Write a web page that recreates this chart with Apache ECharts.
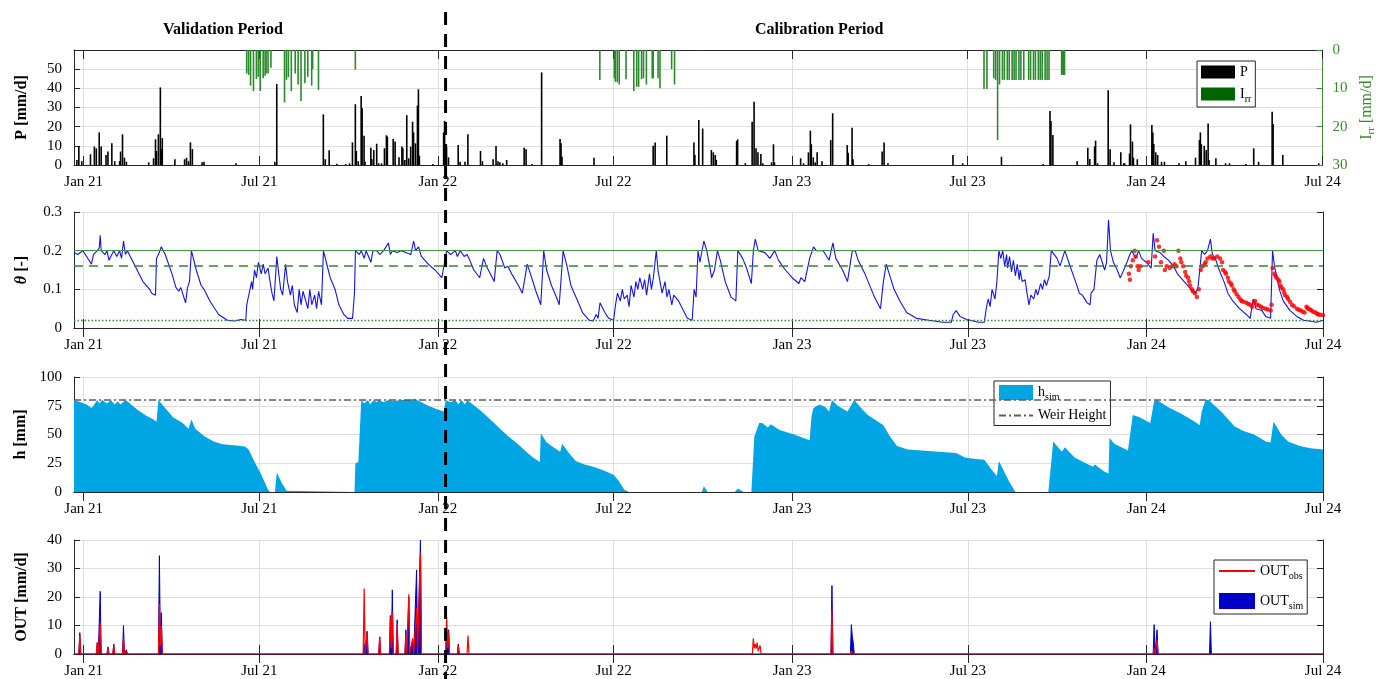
<!DOCTYPE html>
<html><head><meta charset="utf-8">
<script src="https://cdn.jsdelivr.net/npm/echarts@6/dist/echarts.min.js"></script>
<style>html,body{margin:0;padding:0;background:#fff}#c{width:1385px;height:679px}</style>
</head><body><div id="c"></div>
<script>
const xStart = '2020-12-22', xEnd = '2024-07-01';
const splitDate = '2022-01-09';
const tickDates = ['2021-01-01','2021-07-01','2022-01-01','2022-07-01','2023-01-01','2023-07-01','2024-01-01','2024-07-01'];
const periodTitles = ['Validation Period', 'Calibration Period'];

// Precipitation P [mm/d]
const precip = [['2020-12-25',2.6],['2020-12-27',9.6],['2020-12-30',2],
['2021-01-08',5.6],['2021-01-12',9.6],['2021-01-14',8.7],['2021-01-17',17],['2021-01-19',9.6],['2021-01-24',5.2],['2021-01-26',7],['2021-01-30',11.3],['2021-02-02',2],['2021-02-07',2],['2021-02-08',7],['2021-02-10',16],['2021-02-12',3.8],['2021-02-14',1.7],
['2021-03-09',1.4],['2021-03-14',3.5],['2021-03-16',13.4],['2021-03-17',7.3],['2021-03-19',16],['2021-03-21',40.5],['2021-03-22',8.3],['2021-03-23',14],
['2021-04-05',3],['2021-04-15',3],['2021-04-17',3.8],['2021-04-19',2],['2021-04-21',11.8],['2021-04-23',8.3],['2021-05-03',1.4],['2021-05-05',1.7],['2021-06-07',0.9],
['2021-07-17',1.7],['2021-07-19',42.3],
['2021-09-05',26.4],['2021-09-07',3],['2021-09-11',7.7],['2021-09-19',0.7],['2021-09-28',0.5],['2021-10-02',0.9],['2021-10-05',11.8],['2021-10-08',31.7],['2021-10-09',7.3],['2021-10-11',2],['2021-10-14',36],['2021-10-15',29.6],['2021-10-17',15.3],['2021-10-18',1.7],['2021-10-24',9],['2021-10-25',3.1],['2021-10-27',7.8],['2021-10-30',11.1],['2021-11-01',0.9],['2021-11-04',0.9],['2021-11-07',8.7],['2021-11-09',15.5],['2021-11-10',14.8],['2021-11-16',13.6],['2021-11-18',12.2],['2021-11-22',4],['2021-11-25',9.6],['2021-11-26',8.7],['2021-11-28',2.6],['2021-11-30',26],['2021-12-02',3.5],['2021-12-04',9.6],['2021-12-06',22.6],['2021-12-07',17],['2021-12-09',11.3],['2021-12-11',31],['2021-12-12',39.5],['2021-12-13',4.9],['2021-12-27',0.5],
['2022-01-07',17],['2022-01-08',23],['2022-01-09',10],['2022-01-10',9.5],['2022-01-12',4],['2022-01-22',10.4],['2022-01-24',1.7],['2022-01-29',1.7],['2022-02-01',16],['2022-02-14',7.3],['2022-02-16',2],['2022-02-27',3],['2022-03-02',9.9],['2022-03-04',2],['2022-03-06',1.4],['2022-03-09',0.9],['2022-03-13',2.6],['2022-03-31',9],['2022-04-02',8.2],['2022-04-08',0.5],['2022-04-18',48.3],['2022-05-07',13.6],['2022-05-08',11.3],['2022-05-09',4.3],['2022-06-11',3.8],
['2022-08-11',10],['2022-08-13',11.8],['2022-08-25',15.3],['2022-09-22',11.8],['2022-09-23',5.2],['2022-09-27',23.5],['2022-10-01',19],['2022-10-10',7.8],['2022-10-12',6.6],['2022-10-14',5.2],['2022-10-15',2.6],['2022-11-05',12.5],['2022-11-06',13.4],['2022-11-14',0.9],['2022-11-21',22.6],['2022-11-23',33],['2022-11-25',8.7],['2022-11-27',6.6],['2022-11-30',5.7],['2022-12-02',0.9],['2022-12-11',1.4],['2022-12-13',10.8],['2022-12-14',1.4],
['2023-01-10',3.5],['2023-01-13',0.9],['2023-01-18',6.6],['2023-01-20',17.9],['2023-01-21',10.8],['2023-01-23',4],['2023-01-25',1.4],['2023-01-27',6.6],['2023-02-01',2],['2023-02-10',13],['2023-02-12',27],['2023-02-27',10.4],['2023-02-28',6.4],['2023-03-04',19.5],['2023-03-05',3],['2023-03-21',0.5],['2023-04-04',7],['2023-04-06',11.8],['2023-04-10',0.9],['2023-06-16',5.2],['2023-06-26',0.9],['2023-08-05',4.3],
['2023-09-17',0.5],['2023-09-24',28.2],['2023-09-25',23],['2023-09-27',15.7],['2023-10-22',2],['2023-11-02',9],['2023-11-04',3.1],['2023-11-09',9.6],['2023-11-10',12.7],['2023-11-12',0.9],['2023-11-23',39],['2023-11-25',8.2],['2023-11-29',1.4],['2023-12-06',6.6],['2023-12-09',0.9],['2023-12-10',0.9],['2023-12-15',6],['2023-12-16',21.2],['2023-12-18',12.2],['2023-12-19',3.8],['2023-12-23',3],
['2024-01-07',20.9],['2024-01-08',17],['2024-01-09',11],['2024-01-11',6.6],['2024-01-13',5.2],['2024-01-17',1.7],['2024-01-20',1.7],['2024-02-04',0.9],['2024-02-11',2],['2024-02-21',3.8],['2024-02-25',13],['2024-02-26',17],['2024-02-27',10.8],['2024-03-01',10],['2024-03-03',7.8],['2024-03-05',21.7],['2024-03-06',2.6],['2024-03-13',3.5],['2024-03-23',0.9],['2024-03-27',0.9],['2024-04-13',0.5],['2024-04-21',8.7],['2024-04-26',1.7],['2024-05-10',27.8],['2024-05-11',21.4],['2024-05-21',5.2],['2024-06-27',0.9]];

// Irrigation I_rr [mm/d] (right axis, inverted)
const irrigation = [['2021-06-18',6.1],['2021-06-20',6.5],['2021-06-22',9.3],['2021-06-25',10.7],['2021-06-28',7.6],['2021-06-30',7],['2021-07-02',10.7],['2021-07-05',7.4],['2021-07-07',6.7],['2021-07-08',6.1],['2021-07-10',6.1],['2021-07-13',4.6],['2021-07-27',13.7],['2021-07-29',7.8],['2021-07-31',7.1],['2021-08-03',10.7],['2021-08-07',6.1],['2021-08-10',9],['2021-08-13',13.3],['2021-08-17',8.7],['2021-08-20',7],['2021-08-24',9.3],['2021-08-25',5],['2021-08-31',10.4],['2021-10-08',5.1],
['2022-06-17',7.8],['2022-07-02',7.4],['2022-07-03',8.3],['2022-07-05',8.4],['2022-07-07',9],['2022-07-14',7.6],['2022-07-22',10.7],['2022-07-25',9.6],['2022-07-27',9.6],['2022-07-30',7.6],['2022-08-01',7.4],['2022-08-04',9],['2022-08-10',7.4],['2022-08-11',7.4],['2022-08-16',7.4],['2022-08-18',10],['2022-08-30',5],['2022-09-02',9],
['2023-07-18',10.2],['2023-07-21',10.2],['2023-07-28',7.4],['2023-07-30',7.8],['2023-08-01',23.5],['2023-08-03',9],['2023-08-06',7.8],['2023-08-08',7.8],['2023-08-11',7.8],['2023-08-13',7.8],['2023-08-16',7.8],['2023-08-18',7.8],['2023-08-20',7.8],['2023-08-23',7.8],['2023-08-25',7.8],['2023-08-28',7.8],['2023-09-02',7.8],['2023-09-04',7.8],['2023-09-07',7.8],['2023-09-09',7.8],['2023-09-12',7.8],['2023-09-14',7.8],['2023-09-16',7.8],['2023-09-19',7.8],['2023-09-21',7.8],['2023-09-23',7.8],['2023-10-06',6.5],['2023-10-07',6.5],['2023-10-08',6.5],['2023-10-09',6.5]];

// Soil moisture theta [-]
const thetaSim = [['2020-12-22',0.195],['2020-12-26',0.19],['2020-12-31',0.2],['2021-01-04',0.185],['2021-01-09',0.165],['2021-01-11',0.19],['2021-01-15',0.2],['2021-01-17',0.207],['2021-01-18',0.24],['2021-01-19',0.2],['2021-01-23',0.19],['2021-01-25',0.2],['2021-01-27',0.175],['2021-02-01',0.2],['2021-02-04',0.185],['2021-02-07',0.2],['2021-02-09',0.18],['2021-02-11',0.225],['2021-02-13',0.19],['2021-02-15',0.2],['2021-02-21',0.17],['2021-03-03',0.12],['2021-03-10',0.1],['2021-03-12',0.09],['2021-03-14',0.095],['2021-03-16',0.085],['2021-03-17',0.18],['2021-03-19',0.19],['2021-03-22',0.21],['2021-03-26',0.19],['2021-04-02',0.14],['2021-04-06',0.105],['2021-04-09',0.095],['2021-04-11',0.105],['2021-04-16',0.065],['2021-04-18',0.105],['2021-04-20',0.12],['2021-04-22',0.2],['2021-04-27',0.15],['2021-05-02',0.11],['2021-05-05',0.1],['2021-05-11',0.07],['2021-05-20',0.035],['2021-05-29',0.02],['2021-06-05',0.018],['2021-06-12',0.022],['2021-06-17',0.02],['2021-06-18',0.06],['2021-06-20',0.055],['2021-06-23',0.12],['2021-06-24',0.1],['2021-06-26',0.15],['2021-06-28',0.13],['2021-06-30',0.17],['2021-07-03',0.14],['2021-07-05',0.165],['2021-07-07',0.14],['2021-07-10',0.155],['2021-07-12',0.12],['2021-07-14',0.09],['2021-07-16',0.07],['2021-07-19',0.185],['2021-07-21',0.14],['2021-07-23',0.1],['2021-07-25',0.085],['2021-07-28',0.165],['2021-07-30',0.12],['2021-08-02',0.085],['2021-08-04',0.11],['2021-08-06',0.06],['2021-08-09',0.04],['2021-08-11',0.1],['2021-08-13',0.06],['2021-08-15',0.095],['2021-08-20',0.05],['2021-08-22',0.1],['2021-08-24',0.06],['2021-08-27',0.085],['2021-08-29',0.05],['2021-08-31',0.095],['2021-09-03',0.06],['2021-09-05',0.2],['2021-09-10',0.15],['2021-09-12',0.13],['2021-09-14',0.135],['2021-09-17',0.1],['2021-09-21',0.06],['2021-09-26',0.035],['2021-09-30',0.025],['2021-10-05',0.025],['2021-10-07',0.09],['2021-10-08',0.2],['2021-10-12',0.19],['2021-10-14',0.2],['2021-10-17',0.18],['2021-10-19',0.2],['2021-10-24',0.17],['2021-10-26',0.2],['2021-10-30',0.2],['2021-11-02',0.19],['2021-11-06',0.2],['2021-11-11',0.22],['2021-11-13',0.19],['2021-11-15',0.2],['2021-11-20',0.195],['2021-11-24',0.2],['2021-11-29',0.195],['2021-12-01',0.2],['2021-12-04',0.19],['2021-12-07',0.225],['2021-12-09',0.2],['2021-12-12',0.21],['2021-12-15',0.185],['2021-12-22',0.165],['2021-12-29',0.15],['2022-01-05',0.13],['2022-01-07',0.125],['2022-01-10',0.2],['2022-01-14',0.19],['2022-01-19',0.2],['2022-01-21',0.185],['2022-01-24',0.2],['2022-01-28',0.185],['2022-01-31',0.19],['2022-02-02',0.18],['2022-02-07',0.15],['2022-02-13',0.13],['2022-02-17',0.18],['2022-02-20',0.16],['2022-02-25',0.135],['2022-02-28',0.12],['2022-03-03',0.2],['2022-03-06',0.19],['2022-03-11',0.155],['2022-03-14',0.16],['2022-03-18',0.14],['2022-03-25',0.11],['2022-03-29',0.09],['2022-04-03',0.165],['2022-04-07',0.135],['2022-04-12',0.095],['2022-04-17',0.06],['2022-04-20',0.2],['2022-04-23',0.15],['2022-04-28',0.11],['2022-05-03',0.08],['2022-05-06',0.06],['2022-05-10',0.2],['2022-05-14',0.16],['2022-05-18',0.11],['2022-05-25',0.07],['2022-05-30',0.04],['2022-06-06',0.02],['2022-06-10',0.018],['2022-06-13',0.035],['2022-06-15',0.025],['2022-06-17',0.065],['2022-06-22',0.04],['2022-06-26',0.025],['2022-07-01',0.02],['2022-07-03',0.06],['2022-07-05',0.09],['2022-07-08',0.07],['2022-07-10',0.1],['2022-07-12',0.075],['2022-07-15',0.085],['2022-07-17',0.055],['2022-07-19',0.11],['2022-07-22',0.08],['2022-07-24',0.12],['2022-07-26',0.1],['2022-07-28',0.13],['2022-07-31',0.1],['2022-08-02',0.125],['2022-08-04',0.085],['2022-08-07',0.14],['2022-08-09',0.1],['2022-08-11',0.13],['2022-08-14',0.2],['2022-08-16',0.145],['2022-08-18',0.15],['2022-08-20',0.09],['2022-08-23',0.12],['2022-08-25',0.08],['2022-08-27',0.1],['2022-08-30',0.06],['2022-09-01',0.085],['2022-09-03',0.09],['2022-09-06',0.07],['2022-09-10',0.05],['2022-09-15',0.025],['2022-09-20',0.02],['2022-09-22',0.1],['2022-09-24',0.08],['2022-09-26',0.2],['2022-09-28',0.17],['2022-10-02',0.225],['2022-10-05',0.2],['2022-10-08',0.16],['2022-10-10',0.13],['2022-10-13',0.15],['2022-10-16',0.2],['2022-10-19',0.175],['2022-10-24',0.12],['2022-10-30',0.08],['2022-11-04',0.07],['2022-11-06',0.2],['2022-11-11',0.18],['2022-11-15',0.155],['2022-11-20',0.115],['2022-11-22',0.2],['2022-11-24',0.23],['2022-11-27',0.2],['2022-11-29',0.2],['2022-12-04',0.195],['2022-12-09',0.18],['2022-12-14',0.2],['2022-12-18',0.175],['2022-12-25',0.15],['2023-01-01',0.13],['2023-01-08',0.115],['2023-01-10',0.13],['2023-01-14',0.12],['2023-01-19',0.18],['2023-01-23',0.21],['2023-01-26',0.2],['2023-02-02',0.2],['2023-02-08',0.175],['2023-02-12',0.22],['2023-02-15',0.18],['2023-02-22',0.15],['2023-02-27',0.12],['2023-03-04',0.2],['2023-03-07',0.2],['2023-03-10',0.175],['2023-03-17',0.14],['2023-03-26',0.085],['2023-04-02',0.05],['2023-04-05',0.12],['2023-04-08',0.165],['2023-04-11',0.14],['2023-04-16',0.1],['2023-04-22',0.07],['2023-04-29',0.04],['2023-05-09',0.025],['2023-05-22',0.02],['2023-06-05',0.015],['2023-06-14',0.015],['2023-06-16',0.035],['2023-06-19',0.045],['2023-06-23',0.03],['2023-06-30',0.022],['2023-07-12',0.015],['2023-07-18',0.015],['2023-07-20',0.05],['2023-07-22',0.075],['2023-07-24',0.055],['2023-07-26',0.1],['2023-07-29',0.075],['2023-07-31',0.12],['2023-08-02',0.2],['2023-08-04',0.18],['2023-08-06',0.2],['2023-08-08',0.16],['2023-08-10',0.19],['2023-08-11',0.155],['2023-08-13',0.185],['2023-08-15',0.145],['2023-08-17',0.175],['2023-08-19',0.135],['2023-08-21',0.165],['2023-08-23',0.125],['2023-08-24',0.15],['2023-08-26',0.12],['2023-08-29',0.125],['2023-08-31',0.09],['2023-09-02',0.06],['2023-09-04',0.085],['2023-09-07',0.075],['2023-09-09',0.1],['2023-09-11',0.085],['2023-09-14',0.115],['2023-09-16',0.1],['2023-09-18',0.125],['2023-09-20',0.11],['2023-09-23',0.135],['2023-09-25',0.2],['2023-09-27',0.2],['2023-10-01',0.18],['2023-10-04',0.16],['2023-10-09',0.2],['2023-10-13',0.17],['2023-10-20',0.12],['2023-10-24',0.09],['2023-10-27',0.085],['2023-11-01',0.065],['2023-11-04',0.06],['2023-11-05',0.09],['2023-11-08',0.1],['2023-11-11',0.175],['2023-11-14',0.19],['2023-11-19',0.15],['2023-11-21',0.17],['2023-11-23',0.28],['2023-11-25',0.2],['2023-11-28',0.17],['2023-12-02',0.15],['2023-12-05',0.13],['2023-12-07',0.14],['2023-12-12',0.17],['2023-12-15',0.19],['2023-12-17',0.2],['2023-12-21',0.18],['2023-12-24',0.2],['2023-12-27',0.18],['2024-01-01',0.17],['2024-01-06',0.155],['2024-01-08',0.245],['2024-01-10',0.2],['2024-01-15',0.195],['2024-01-19',0.185],['2024-01-24',0.175],['2024-01-29',0.16],['2024-02-02',0.14],['2024-02-09',0.12],['2024-02-16',0.1],['2024-02-20',0.09],['2024-02-23',0.1],['2024-02-25',0.15],['2024-02-27',0.2],['2024-03-01',0.19],['2024-03-04',0.2],['2024-03-07',0.23],['2024-03-09',0.19],['2024-03-12',0.18],['2024-03-16',0.15],['2024-03-21',0.12],['2024-03-25',0.09],['2024-03-30',0.07],['2024-04-06',0.05],['2024-04-13',0.035],['2024-04-17',0.025],['2024-04-20',0.075],['2024-04-23',0.05],['2024-04-29',0.045],['2024-05-03',0.03],['2024-05-08',0.025],['2024-05-10',0.2],['2024-05-12',0.16],['2024-05-17',0.1],['2024-05-21',0.07],['2024-05-28',0.045],['2024-06-04',0.03],['2024-06-11',0.02],['2024-06-17',0.018],['2024-06-24',0.015],['2024-07-01',0.02]];

const thetaObs = [['2023-12-14',0.14],['2023-12-15',0.125],['2023-12-16',0.16],['2023-12-18',0.175],['2023-12-20',0.2],['2023-12-21',0.185],['2023-12-23',0.16],['2023-12-24',0.15],['2023-12-26',0.16],['2024-01-03',0.17],['2024-01-10',0.185],['2024-01-12',0.227],['2024-01-14',0.21],['2024-01-16',0.17],['2024-01-19',0.2],['2024-01-20',0.15],['2024-01-22',0.16],['2024-01-25',0.155],['2024-01-28',0.16],['2024-01-30',0.165],['2024-02-01',0.16],['2024-02-03',0.2],['2024-02-05',0.18],['2024-02-06',0.17],['2024-02-08',0.16],['2024-02-10',0.145],['2024-02-11',0.135],['2024-02-13',0.13],['2024-02-14',0.12],['2024-02-15',0.11],['2024-02-17',0.1],['2024-02-18',0.095],['2024-02-20',0.09],['2024-02-22',0.08],['2024-02-24',0.1],['2024-02-26',0.15],['2024-02-28',0.16],['2024-03-01',0.165],['2024-03-02',0.17],['2024-03-04',0.18],['2024-03-07',0.185],['2024-03-09',0.18],['2024-03-11',0.18],['2024-03-14',0.185],['2024-03-17',0.18],['2024-03-19',0.17],['2024-03-20',0.15],['2024-03-22',0.145],['2024-03-23',0.14],['2024-03-25',0.13],['2024-03-26',0.12],['2024-03-28',0.115],['2024-03-29',0.11],['2024-03-31',0.1],['2024-04-01',0.095],['2024-04-03',0.087],['2024-04-05',0.08],['2024-04-07',0.074],['2024-04-08',0.07],['2024-04-10',0.068],['2024-04-13',0.065],['2024-04-15',0.062],['2024-04-17',0.06],['2024-04-19',0.055],['2024-04-21',0.065],['2024-04-22',0.07],['2024-04-24',0.06],['2024-04-26',0.058],['2024-04-28',0.055],['2024-04-30',0.052],['2024-05-03',0.05],['2024-05-05',0.048],['2024-05-08',0.045],['2024-05-09',0.06],['2024-05-10',0.155],['2024-05-12',0.14],['2024-05-13',0.135],['2024-05-14',0.13],['2024-05-16',0.125],['2024-05-17',0.12],['2024-05-18',0.11],['2024-05-19',0.105],['2024-05-21',0.1],['2024-05-22',0.092],['2024-05-23',0.085],['2024-05-25',0.08],['2024-05-26',0.075],['2024-05-28',0.068],['2024-05-30',0.06],['2024-06-01',0.056],['2024-06-04',0.05],['2024-06-06',0.047],['2024-06-08',0.045],['2024-06-10',0.042],['2024-06-12',0.04],['2024-06-14',0.055],['2024-06-15',0.052],['2024-06-16',0.05],['2024-06-18',0.047],['2024-06-19',0.045],['2024-06-21',0.042],['2024-06-23',0.04],['2024-06-25',0.037],['2024-06-26',0.035],['2024-06-28',0.034],['2024-07-01',0.033]];

const thetaFC = 0.2, thetaCrit = 0.16, thetaWP = 0.02;

// Ponding depth h [mm]
const hSim = [['2020-12-22',80],['2020-12-29',78],['2021-01-04',76],['2021-01-09',73],['2021-01-11',75],['2021-01-15',80],['2021-01-17',77],['2021-01-20',80],['2021-01-25',77],['2021-01-29',80],['2021-02-02',76],['2021-02-05',79],['2021-02-08',76],['2021-02-13',80],['2021-02-16',78],['2021-02-26',71],['2021-03-07',66],['2021-03-14',63],['2021-03-17',61],['2021-03-19',80],['2021-03-25',74],['2021-04-03',65],['2021-04-13',60],['2021-04-19',55],['2021-04-22',63],['2021-04-26',55],['2021-05-06',48],['2021-05-15',44],['2021-05-24',41.5],['2021-06-07',40.5],['2021-06-16',39.5],['2021-06-20',37],['2021-06-25',28],['2021-07-03',15],['2021-07-10',2],['2021-07-12',0],['2021-07-17',0],['2021-07-19',17],['2021-07-24',8],['2021-07-29',1],['2021-07-31',0],['2021-10-07',0],['2021-10-08',25],['2021-10-11',26],['2021-10-14',80],['2021-10-17',77],['2021-10-21',80],['2021-10-23',76],['2021-10-27',80],['2021-10-30',78],['2021-11-01',80],['2021-11-06',78],['2021-11-11',80],['2021-11-15',79],['2021-11-24',80],['2021-12-01',80],['2021-12-08',81],['2021-12-15',78],['2021-12-22',75],['2021-12-31',72],['2022-01-07',70],['2022-01-09',80],['2022-01-14',78],['2022-01-19',80],['2022-01-22',76],['2022-01-25',80],['2022-01-29',76],['2022-01-31',80],['2022-02-06',76],['2022-02-15',70],['2022-02-24',63],['2022-03-06',55],['2022-03-15',48],['2022-03-24',42],['2022-04-02',35],['2022-04-09',30],['2022-04-16',26],['2022-04-17',51],['2022-04-23',43],['2022-04-30',39],['2022-05-07',35],['2022-05-09',42],['2022-05-16',34],['2022-05-23',27],['2022-06-01',24],['2022-06-10',22],['2022-06-20',19],['2022-07-01',15],['2022-07-06',10],['2022-07-12',2],['2022-07-17',0],['2022-08-12',0],['2022-08-14',1.5],['2022-08-16',0],['2022-09-30',0],['2022-10-02',5],['2022-10-06',0],['2022-10-13',0],['2022-10-15',1.5],['2022-10-17',0],['2022-11-03',0],['2022-11-06',3],['2022-11-12',0],['2022-11-20',0],['2022-11-23',48],['2022-11-28',60],['2022-12-01',60],['2022-12-07',56],['2022-12-10',59],['2022-12-19',54],['2023-01-03',50],['2023-01-19',45],['2023-01-21',66],['2023-01-23',73],['2023-01-29',76],['2023-02-04',74],['2023-02-08',70],['2023-02-11',80],['2023-02-17',75],['2023-02-27',70],['2023-03-06',80],['2023-03-13',73],['2023-03-20',67],['2023-03-29',62],['2023-04-05',58],['2023-04-12',48],['2023-04-19',40],['2023-04-30',37],['2023-05-14',36],['2023-06-01',35],['2023-06-19',34],['2023-06-28',30],['2023-07-07',29],['2023-07-18',28],['2023-07-25',20],['2023-07-31',14],['2023-08-02',27],['2023-08-05',22],['2023-08-12',10],['2023-08-19',0],['2023-09-22',0],['2023-09-27',44],['2023-10-06',35],['2023-10-09',39],['2023-10-19',30],['2023-10-28',26],['2023-11-07',22],['2023-11-09',24],['2023-11-18',18],['2023-11-23',16],['2023-11-24',47],['2023-11-29',42],['2023-12-13',36],['2023-12-18',67],['2023-12-25',65],['2024-01-05',60],['2024-01-09',79],['2024-01-12',80],['2024-01-23',74],['2024-02-06',68],['2024-02-20',61],['2024-02-25',58],['2024-02-27',70],['2024-03-02',80],['2024-03-05',80],['2024-03-18',70],['2024-04-01',57],['2024-04-10',53],['2024-04-21',50],['2024-05-03',44],['2024-05-08',43],['2024-05-11',61],['2024-05-19',50],['2024-05-26',44],['2024-06-07',40],['2024-06-18',38],['2024-07-01',37]];
const weirHeight = 80;

// Outflow OUT [mm/d]: [date, simulated, observed]
const outFlow = [['2020-12-22',0,0],
['2020-12-27',0,0],['2020-12-28',7.5,6.5],['2020-12-29',0,0],
['2021-01-14',0,0],['2021-01-15',4,4],['2021-01-16',0,0],
['2021-01-17',0,0],['2021-01-18',22,11],['2021-01-19',0,0],
['2021-01-25',0,0],['2021-01-26',2.5,2],['2021-01-27',0,0],
['2021-01-31',0,0],['2021-02-01',3.5,3],['2021-02-02',0,0],
['2021-02-10',0,0],['2021-02-11',10,5.5],['2021-02-12',0,0],
['2021-02-13',0,0],['2021-02-14',1.5,1],['2021-02-15',0,0],
['2021-03-19',0,0],['2021-03-20',34.5,17.5],['2021-03-21',4,3],['2021-03-22',14.5,10],['2021-03-23',0,0],
['2021-04-17',0,0],['2021-04-18',0,0.5],['2021-04-19',0,0],
['2021-10-16',0,0],['2021-10-17',3.5,23],['2021-10-18',0,0],
['2021-10-19',0,0],['2021-10-20',8,7.5],['2021-10-21',0,0],
['2021-11-01',0,0],['2021-11-02',6,6],['2021-11-03',0,0],
['2021-11-12',0,0],['2021-11-13',13.5,13],['2021-11-14',3,2],['2021-11-15',22.5,15],['2021-11-16',0,0],
['2021-11-19',0,0],['2021-11-20',12,10.5],['2021-11-21',0,0],
['2021-11-28',0,0],['2021-11-29',8.5,7],['2021-11-30',0,0],
['2021-12-01',0,0],['2021-12-02',20,21],['2021-12-03',0,0],
['2021-12-05',0,0],['2021-12-06',5,5.5],['2021-12-07',0,0],
['2021-12-09',0,0],['2021-12-10',29.5,16],['2021-12-11',0,0],
['2021-12-13',0,0],['2021-12-14',40,35.5],['2021-12-15',0,0],
['2022-01-09',0,0],['2022-01-10',8.5,13],['2022-01-11',3,2],['2022-01-12',8.5,8],['2022-01-13',0,0],
['2022-01-21',0,0],['2022-01-22',3.5,3],['2022-01-23',0,0],
['2022-01-31',0,0],['2022-02-01',0,6.5],['2022-02-02',0,0],
['2022-11-21',0,0],['2022-11-22',0,5.5],['2022-11-23',0,2],['2022-11-24',0,3.5],['2022-11-25',0,2],['2022-11-26',0,4],['2022-11-27',0,1],['2022-11-29',0,3],['2022-11-30',0,0],
['2023-02-10',0,0],['2023-02-11',24,15.5],['2023-02-12',0,0],
['2023-03-02',0,0],['2023-03-03',10.3,1],['2023-03-04',6,0.5],['2023-03-05',4,0],['2023-03-06',0,0],
['2024-01-08',0,0],['2024-01-09',10.3,2],['2024-01-10',0,0],
['2024-01-11',0,0],['2024-01-12',8.5,5],['2024-01-13',0,0],
['2024-03-06',0,0],['2024-03-07',11.3,0.5],['2024-03-08',0,0],
['2024-07-01',0,0]];

const FF = '"Liberation Serif","Times New Roman",serif';
const AX = '#262626';
const GRIDC = '#dedede';
const toTs = s => { const [y,m,d] = s.split('-').map(Number); return new Date(y, m-1, d).getTime(); };
const pts = arr => arr.map(([d, v]) => [toTs(d), v]);
const ticks = tickDates.map(toTs);
const MON = ['Jan','Feb','Mar','Apr','May','Jun','Jul','Aug','Sep','Oct','Nov','Dec'];
const fmtDate = v => { const d = new Date(v); return MON[d.getMonth()] + ' ' + String(d.getFullYear()).slice(2); };

const panels = [{top:50,height:115},{top:212,height:116},{top:377,height:115},{top:540,height:116}];
const grid = panels.map(p => ({left:74, right:62, top:p.top, height:p.height}));

const xAxis = [];
panels.forEach((p, g) => {
  xAxis.push({type:'value', gridIndex:g, min:toTs(xStart), max:toTs(xEnd), scale:true,
    axisLine:{lineStyle:{color:AX, width:1}},
    axisTick:{show:true, inside:true, length:9, customValues:ticks, lineStyle:{color:AX}},
    axisLabel:{customValues:ticks, formatter:fmtDate, color:'#000', fontFamily:FF, fontSize:15, margin:10, hideOverlap:false},
    splitLine:{show:true, lineStyle:{color:GRIDC, width:1}}});
  xAxis.push({type:'value', gridIndex:g, position:'top', min:toTs(xStart), max:toTs(xEnd), scale:true,
    axisLine:{lineStyle:{color:AX, width:1}},
    axisTick:{show:true, inside:true, length:9, customValues:ticks, lineStyle:{color:AX}},
    axisLabel:{show:false}, splitLine:{show:false}});
});

const nameStyle = {fontFamily:FF, fontWeight:'bold', fontSize:16, color:'#000',
  rich:{i:{fontFamily:FF, fontStyle:'italic', fontWeight:'bold', fontSize:16, color:'#000'},
        b:{fontFamily:FF, fontWeight:'bold', fontSize:16, color:'#000'}}};
const labelStyle = {color:'#000', fontFamily:FF, fontSize:15, margin:12};
function leftY(g, min, max, interval, name, fmt){
  return {type:'value', gridIndex:g, min, max, interval, name, nameLocation:'middle', nameGap:44, nameRotate:90,
    nameTextStyle:nameStyle,
    axisLine:{show:true, lineStyle:{color:AX}}, axisTick:{show:true, inside:true, length:6, lineStyle:{color:AX}},
    axisLabel:Object.assign({formatter:fmt}, labelStyle), splitLine:{show:true, lineStyle:{color:GRIDC}}};
}
function mirrorY(g, min, max, interval){
  return {type:'value', gridIndex:g, position:'right', min, max, interval,
    axisLine:{show:true, lineStyle:{color:AX}}, axisTick:{show:true, inside:true, length:6, lineStyle:{color:AX}},
    axisLabel:{show:false}, splitLine:{show:false}};
}
const IRR_AX = '#3d8b2f';
const yAxis = [
  leftY(0, 0, 60, 10, 'P [mm/d]', v => v === 60 ? '' : String(v)),
  {type:'value', gridIndex:0, position:'right', inverse:true, min:0, max:30, interval:10,
   name:'{a|I}{s|rr}{a| [mm/d]}', nameLocation:'middle', nameGap:33, nameRotate:90,
   nameTextStyle:{color:IRR_AX, fontFamily:FF, fontSize:16,
     rich:{a:{color:IRR_AX, fontFamily:FF, fontSize:16}, s:{color:IRR_AX, fontFamily:FF, fontSize:11, padding:[10,0,0,0]}}},
   axisLine:{show:true, lineStyle:{color:IRR_AX}}, axisTick:{show:true, inside:true, length:6, lineStyle:{color:IRR_AX}},
   axisLabel:{color:IRR_AX, fontFamily:FF, fontSize:15, margin:10}, splitLine:{show:false}},
  leftY(1, 0, 0.3, 0.1, '{i|θ}{b| [-]}', v => v === 0 ? '0' : v.toFixed(1)),
  mirrorY(1, 0, 0.3, 0.1),
  leftY(2, 0, 100, 25, 'h [mm]', v => String(v)),
  mirrorY(2, 0, 100, 25),
  leftY(3, 0, 40, 10, 'OUT [mm/d]', v => String(v)),
  mirrorY(3, 0, 40, 10)
];

const SIMBLUE = '#0000c8';
const series = [
  {name:'P', type:'bar', xAxisIndex:0, yAxisIndex:0, data:pts(precip), barWidth:1.6, barGap:'-100%', itemStyle:{color:'#000'}, silent:true},
  {name:'I_rr', type:'bar', xAxisIndex:0, yAxisIndex:1, data:pts(irrigation), barWidth:1.6, barGap:'-100%', itemStyle:{color:'#2b8a2b'}, silent:true},
  {name:'theta_sim', type:'line', xAxisIndex:2, yAxisIndex:2, data:pts(thetaSim), symbol:'none', lineStyle:{color:'#1414e6', width:1.1}, z:3, silent:true,
   markLine:{silent:true, symbol:['none','none'], label:{show:false}, animation:false,
     data:[{yAxis:thetaFC, lineStyle:{color:'#3f9a3f', type:'solid', width:1.2}},
           {yAxis:thetaCrit, lineStyle:{color:'#2e8b2e', type:[9,6], width:1.5}},
           {yAxis:thetaWP, lineStyle:{color:'#2e8b2e', type:[1.5,2], width:1.3}}]}},
  {name:'theta_obs', type:'scatter', xAxisIndex:2, yAxisIndex:2, data:pts(thetaObs), symbol:'circle', symbolSize:4.5, itemStyle:{color:'#ff0000'}, z:4, silent:true},
  {name:'h_sim', type:'line', xAxisIndex:4, yAxisIndex:4, data:pts(hSim), symbol:'none', lineStyle:{width:0, color:'#00a5e3'}, itemStyle:{color:'#00a5e3'}, areaStyle:{color:'#00a5e3', opacity:1}, silent:true},
  {name:'Weir Height', type:'line', xAxisIndex:4, yAxisIndex:4, data:pts([[xStart, weirHeight],[xEnd, weirHeight]]), symbol:'none', lineStyle:{color:'#5c5c5c', width:1.6, type:[7,3,2,3]}, itemStyle:{color:'#5c5c5c'}, z:5, silent:true},
  {name:'OUT_sim', type:'line', xAxisIndex:6, yAxisIndex:6, data:outFlow.map(r => [toTs(r[0]), r[1]]), symbol:'none', lineStyle:{color:SIMBLUE, width:1}, itemStyle:{color:SIMBLUE}, areaStyle:{color:SIMBLUE, opacity:1}, silent:true},
  {name:'OUT_obs', type:'line', xAxisIndex:6, yAxisIndex:6, data:outFlow.map(r => [toTs(r[0]), r[2]]), symbol:'none', lineStyle:{color:'#ff0000', width:1.2}, itemStyle:{color:'#ff0000'}, z:4, silent:true}
];

const legendNames = {'P':'{m|P}', 'I_rr':'{m|I}{s|rr}', 'h_sim':'{m|h}{s|sim}', 'Weir Height':'{m|Weir Height}', 'OUT_obs':'{m|OUT}{s|obs}', 'OUT_sim':'{m|OUT}{s|sim}'};
const legendText = {fontFamily:FF, fontSize:14, color:'#000',
  rich:{m:{fontFamily:FF, fontSize:14, color:'#000'}, s:{fontFamily:FF, fontSize:10, color:'#000', padding:[10,0,0,0]}}};
function mkLegend(left, top, data, iw, ih, gap){
  return {left, top, orient:'vertical', data, itemWidth:iw, itemHeight:ih, itemGap:gap, selectedMode:false,
    padding:[4,4,3,4], borderColor:AX, borderWidth:1, backgroundColor:'#fff', borderRadius:0,
    formatter:n => legendNames[n] || n, textStyle:legendText};
}
const hideSym = {opacity:0};
const legend = [
  mkLegend(1197, 61, [{name:'P', icon:'rect', itemStyle:{color:'#000'}}, {name:'I_rr', icon:'rect', itemStyle:{color:'#006400'}}], 34, 13, 8),
  mkLegend(994, 381, [{name:'h_sim', icon:'rect'}, {name:'Weir Height', itemStyle:hideSym}], 34, 15, 6),
  mkLegend(1214, 560, [{name:'OUT_obs', itemStyle:hideSym}, {name:'OUT_sim', icon:'rect', itemStyle:{color:SIMBLUE}}], 36, 16, 12)
];

const titleStyle = {fontFamily:FF, fontWeight:'bold', fontSize:16, color:'#000'};
const title = [
  {text:periodTitles[0], left:158, top:17, textStyle:titleStyle},
  {text:periodTitles[1], left:750, top:17, textStyle:titleStyle}
];

const chart = echarts.init(document.getElementById('c'), null, {renderer:'canvas'});
chart.setOption({animation:false, backgroundColor:'#fff', title, legend, grid, xAxis, yAxis, series});
const xs = chart.convertToPixel({xAxisIndex:0}, toTs(splitDate));
chart.setOption({graphic:[{type:'line', z:100, silent:true, shape:{x1:xs, y1:12, x2:xs, y2:679}, style:{stroke:'#000', lineWidth:3, lineDash:[13,9]}}]});
</script></body></html>
